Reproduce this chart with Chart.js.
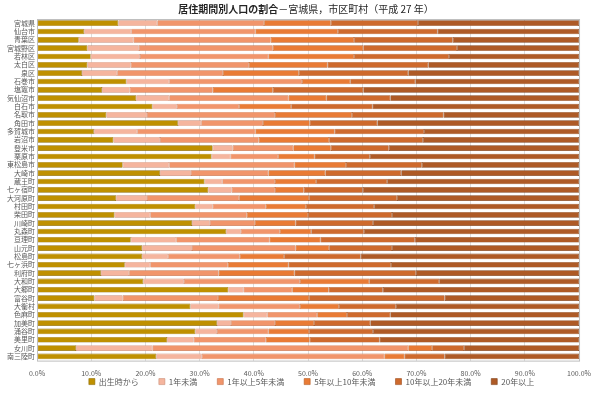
<!DOCTYPE html>
<html>
<head>
<meta charset="utf-8">
<script src="https://cdn.jsdelivr.net/npm/chart.js@4/dist/chart.umd.min.js"></script>
<style>
  html, body { margin: 0; padding: 0; background: #ffffff; }
  #wrap { width: 600px; height: 393px; }
</style>
</head>
<body>
<div id="wrap"><canvas id="chart"></canvas></div>
<script>
const areas = [
  "宮城県", "仙台市", "青葉区", "宮城野区", "若林区", "太白区", "泉区",
  "石巻市", "塩竈市", "気仙沼市", "白石市", "名取市", "角田市", "多賀城市",
  "岩沼市", "登米市", "栗原市", "東松島市", "大崎市", "蔵王町", "七ヶ宿町",
  "大河原町", "村田町", "柴田町", "川崎町", "丸森町", "亘理町", "山元町",
  "松島町", "七ヶ浜町", "利府町", "大和町", "大郷町", "富谷町", "大衡村",
  "色麻町", "加美町", "涌谷町", "美里町", "女川町", "南三陸町",
];

// 出生時から
const sinceBirth = [
  15.0, 8.7, 7.7, 9.3, 9.9, 9.3, 8.3,
  16.5, 12.0, 18.3, 21.3, 12.8, 26.0, 10.5,
  14.1, 32.4, 32.2, 15.8, 22.7, 30.9, 31.6,
  14.6, 29.2, 14.3, 28.6, 34.9, 17.3, 19.4,
  19.4, 16.2, 11.8, 19.6, 35.3, 10.6, 28.3,
  38.1, 33.2, 29.2, 24.0, 7.2, 22.0,
];
// 1年未満
const underOne = [
  7.2, 8.7, 10.1, 9.5, 9.1, 8.0, 6.5,
  7.9, 5.1, 6.1, 4.5, 7.5, 4.3, 8.0,
  8.6, 3.7, 3.5, 8.6, 5.7, 3.3, 4.3,
  5.7, 3.2, 6.6, 3.3, 2.7, 8.4, 9.2,
  4.8, 4.7, 5.2, 7.5, 2.8, 5.2, 5.2,
  4.4, 2.6, 4.0, 4.9, 14.1, 8.4,
];
// 1年以上5年未満
const oneToFive = [
  19.7, 22.9, 25.3, 24.7, 23.7, 21.8, 19.5,
  24.5, 15.3, 22.0, 11.5, 23.6, 11.4, 21.8,
  18.2, 11.2, 8.8, 23.1, 14.3, 9.7, 8.0,
  17.0, 9.8, 17.8, 8.3, 7.2, 17.2, 19.1,
  13.2, 14.3, 16.5, 21.4, 9.0, 17.6, 15.0,
  9.2, 8.1, 9.5, 13.3, 47.2, 33.7,
];
// 5年以上10年未満
const fiveToTen = [
  12.3, 15.2, 15.4, 16.7, 15.8, 14.5, 14.0,
  8.9, 11.1, 7.0, 9.6, 14.2, 8.6, 14.6,
  13.0, 6.9, 6.7, 9.5, 10.5, 7.6, 5.3,
  12.9, 7.4, 11.3, 7.5, 5.8, 9.4, 6.2,
  8.2, 11.2, 14.0, 12.8, 6.7, 16.8, 7.2,
  5.5, 7.2, 7.5, 8.1, 4.4, 3.7,
];
// 10年以上20年未満
const tenToTwenty = [
  16.1, 18.4, 18.2, 17.3, 17.5, 18.6, 20.2,
  12.0, 16.7, 11.8, 15.0, 16.9, 12.5, 16.5,
  17.3, 10.7, 10.2, 14.0, 14.0, 13.1, 10.9,
  16.2, 12.6, 15.5, 14.3, 9.7, 17.4, 11.6,
  14.1, 18.9, 22.4, 12.9, 10.0, 25.0, 10.5,
  8.0, 10.4, 11.8, 12.9, 5.9, 7.4,
];
// 20年以上
const overTwenty = [
  29.7, 26.1, 23.3, 22.5, 24.0, 27.8, 31.5,
  30.2, 39.8, 34.8, 38.1, 25.0, 37.2, 28.6,
  28.8, 35.1, 38.6, 29.0, 32.8, 35.4, 39.9,
  33.6, 37.8, 34.5, 38.0, 39.7, 30.3, 34.5,
  40.3, 34.7, 30.1, 25.8, 36.2, 24.8, 33.8,
  34.8, 38.5, 38.0, 36.8, 21.2, 24.8,
];

const seriesNames = ["出生時から", "1年未満", "1年以上5年未満", "5年以上10年未満", "10年以上20年未満", "20年以上"];
const titleBold = "居住期間別人口の割合";
const titleRest = "－宮城県，市区町村（平成 27 年）";

const fills = ["#BF9000", "#F5B59E", "#F1956B", "#E97B35", "#CE6A2D", "#AE5A26"];
const edges = ["#8C6A00", "#C98B75", "#C4714A", "#B45A22", "#9C4E1F", "#7E401A"];

const seriesData = [sinceBirth, underOne, oneToFive, fiveToTen, tenToTwenty, overTwenty];

const jp = '"Noto Sans CJK JP", "Noto Sans", sans-serif';
const legendPad = 20;

// title (bold head + normal tail) and the frame round the plot
const framePlugin = {
  id: "frame",
  afterDraw(chart) {
    const { ctx, chartArea: a } = chart;
    ctx.save();
    ctx.strokeStyle = "#BFBFBF";
    ctx.lineWidth = 1;
    ctx.strokeRect(a.left + 0.5, a.top + 0.5, a.right - a.left, a.bottom - a.top);

    ctx.textBaseline = "middle";
    ctx.fillStyle = "#262626";
    ctx.font = "bold 10px " + jp;
    const w1 = ctx.measureText(titleBold).width;
    ctx.font = "10px " + jp;
    const w2 = ctx.measureText(titleRest).width;
    const x0 = chart.width / 2 + 6 - (w1 + w2) / 2;
    ctx.font = "bold 10px " + jp;
    ctx.fillText(titleBold, x0, 9);
    ctx.font = "10px " + jp;
    ctx.fillText(titleRest, x0 + w1, 9);
    ctx.restore();
  },
};

// keep the legend short so the plot gets the height, and centre it under the plot
const legendPlugin = {
  id: "legendFit",
  beforeInit(chart) {
    const legend = chart.legend;
    const origFit = legend.fit;
    legend.fit = function () {
      origFit.call(this);
      this.height = 6;
    };
  },
  afterLayout(chart) {
    const legend = chart.legend;
    legend.top = chart.chartArea.bottom + 17 - legendPad;
    legend.left += 36;
  },
};

const ctx = document.getElementById("chart").getContext("2d");

new Chart(ctx, {
  type: "bar",
  data: {
    labels: areas,
    datasets: seriesNames.map((name, i) => ({
      label: name,
      data: seriesData[i],
      backgroundColor: fills[i],
      borderColor: edges[i],
      borderWidth: 0.6,
      borderSkipped: false,
      categoryPercentage: 0.68,
      barPercentage: 1,
    })),
  },
  options: {
    indexAxis: "y",
    responsive: true,
    maintainAspectRatio: false,
    animation: false,
    layout: {
      padding: { top: 19, right: 17, left: 4, bottom: 0 },
    },
    plugins: {
      legend: {
        position: "bottom",
        labels: {
          boxWidth: 6,
          boxHeight: 6,
          padding: legendPad,
          color: "#595959",
          font: { family: jp, size: 8 },
        },
      },
      tooltip: { enabled: false },
    },
    scales: {
      x: {
        stacked: true,
        min: 0,
        max: 100,
        ticks: {
          stepSize: 10,
          color: "#595959",
          font: { family: jp, size: 7 },
          callback: (v) => v.toFixed(1) + "%",
          maxRotation: 0,
          padding: 9,
        },
        grid: { color: "#DEDEDE", drawTicks: false },
        border: { display: false },
      },
      y: {
        stacked: true,
        ticks: {
          autoSkip: false,
          color: "#595959",
          font: { family: jp, size: 7 },
          padding: 2,
        },
        grid: { display: false, drawTicks: false },
        border: { display: false },
        afterFit: (scale) => {
          scale.width = 33;
        },
      },
    },
  },
  plugins: [framePlugin, legendPlugin],
});
</script>
</body>
</html>
